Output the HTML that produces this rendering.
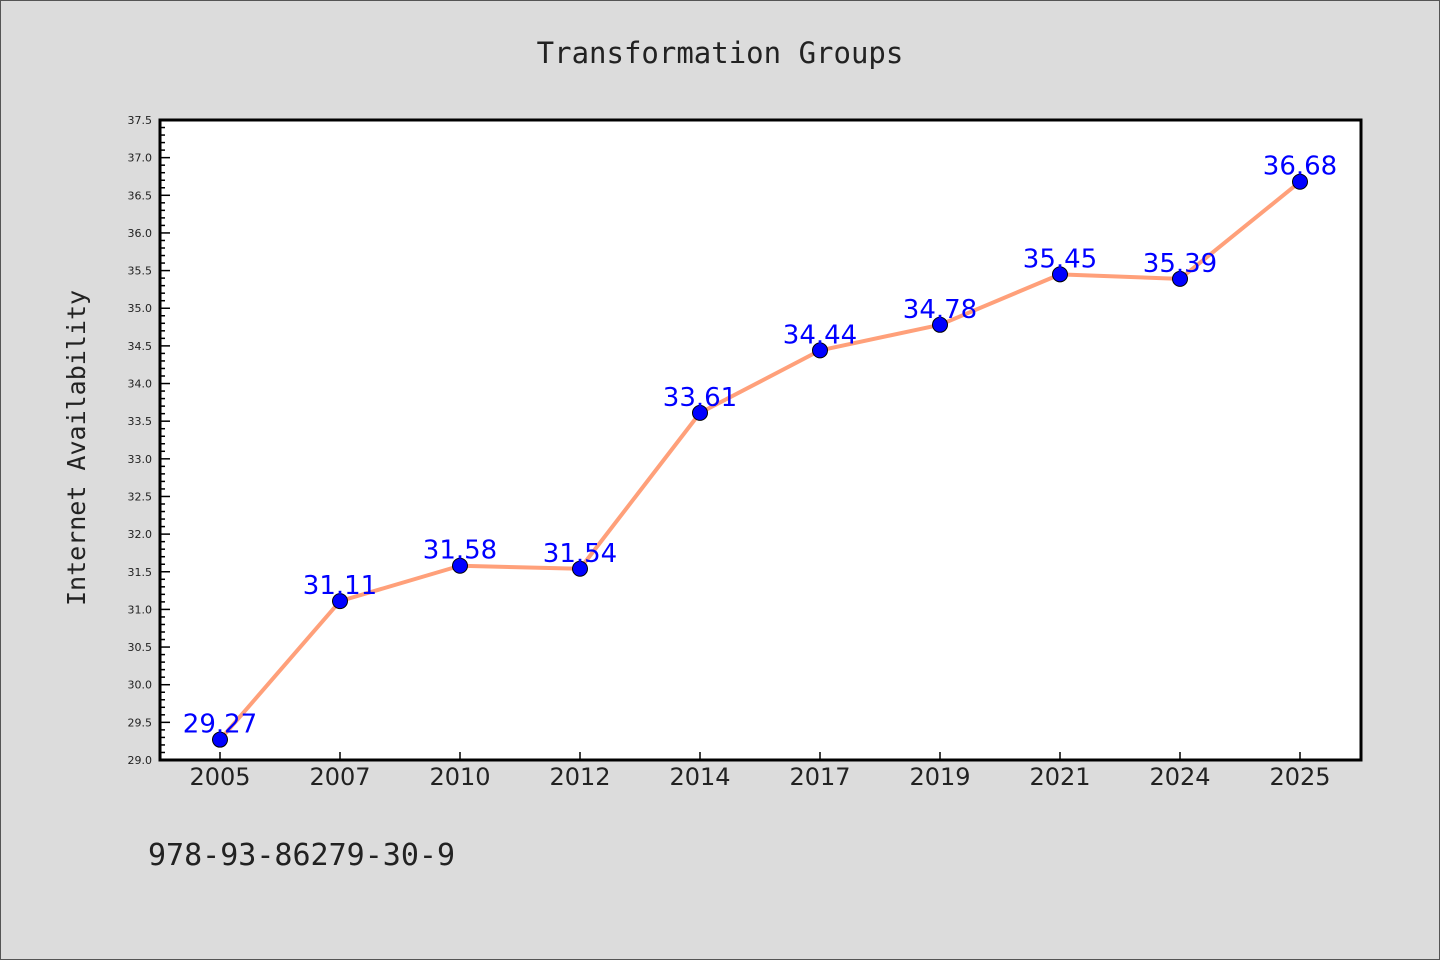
<!DOCTYPE html>
<html><head><meta charset="utf-8"><style>
body{margin:0;background:#dcdcdc;}
svg{display:block;font-family:"DejaVu Sans","Liberation Sans",sans-serif;}
</style></head><body>
<svg id="chart" width="1440" height="960" xmlns="http://www.w3.org/2000/svg">
<rect x="0.5" y="0.5" width="1439" height="959" fill="#dcdcdc" stroke="#555" stroke-width="1"/>
<text x="720" y="63" text-anchor="middle" font-family="DejaVu Sans Mono, monospace" font-size="29" fill="#222">Transformation Groups</text>
<rect x="160" y="120" width="1201" height="640" fill="#fff"/>
<g id="yaxis"></g>
<g id="xaxis"></g>
<g id="series"></g>
<rect x="160" y="120" width="1201" height="640" fill="none" stroke="#000" stroke-width="3"/>
<text transform="translate(85,448) rotate(-90)" text-anchor="middle" font-family="DejaVu Sans Mono, monospace" font-size="25" fill="#222">Internet Availability</text>
<text x="148" y="865" font-family="DejaVu Sans Mono, monospace" font-size="30" fill="#222">978-93-86279-30-9</text>
</svg>
<script>
const categories=["2005","2007","2010","2012","2014","2017","2019","2021","2024","2025"];
const values=[29.27,31.11,31.58,31.54,33.61,34.44,34.78,35.45,35.39,36.68];
const yTicks=[29.0,29.5,30.0,30.5,31.0,31.5,32.0,32.5,33.0,33.5,34.0,34.5,35.0,35.5,36.0,36.5,37.0,37.5];
const NS="http://www.w3.org/2000/svg";
const yMin=29.0,yMax=37.5,plotTop=120,plotBot=760;
function yS(v){return plotBot-(v-yMin)/(yMax-yMin)*(plotBot-plotTop);}
function xS(i){return 220+i*120;}
function mk(t,a,p){const e=document.createElementNS(NS,t);for(const k in a)e.setAttribute(k,a[k]);p.appendChild(e);return e;}
const ya=document.getElementById('yaxis');
for(let m=0;m<=85;m++){const v=yMin+m*0.1;const major=m%5===0;
 const t=mk('line',{x1:160,x2:160+(major?10:5),y1:yS(v),y2:yS(v),stroke:'#000','stroke-width':1.5},ya);
 
 }
yTicks.forEach(v=>{const t=mk('text',{x:152,y:yS(v)+4,'text-anchor':'end','font-size':11,fill:'#222'},ya);t.textContent=v.toFixed(1);
 
 });
const xa=document.getElementById('xaxis');
categories.forEach((c,i)=>{const l=mk('line',{x1:xS(i),x2:xS(i),y1:plotBot,y2:plotBot-8,stroke:'#000','stroke-width':1.5},xa);
 
 
 const t=mk('text',{x:xS(i),y:785,'text-anchor':'middle','font-size':24,fill:'#222'},xa);t.textContent=c;
 
 });
const s=document.getElementById('series');
const pl=mk('polyline',{points:values.map((v,i)=>xS(i)+','+yS(v)).join(' '),fill:'none',stroke:'#ffa07a','stroke-width':4,'stroke-linejoin':'round'},s);


values.forEach((v,i)=>{const c=mk('circle',{cx:xS(i),cy:yS(v),r:7.5,fill:'#0000ff',stroke:'#000','stroke-width':1},s);
 
 
 const t=mk('text',{x:xS(i),y:yS(v)-7,'text-anchor':'middle','font-size':26,fill:'#0000ff'},s);t.textContent=v.toFixed(2);
 
 });
</script>
</body></html>
